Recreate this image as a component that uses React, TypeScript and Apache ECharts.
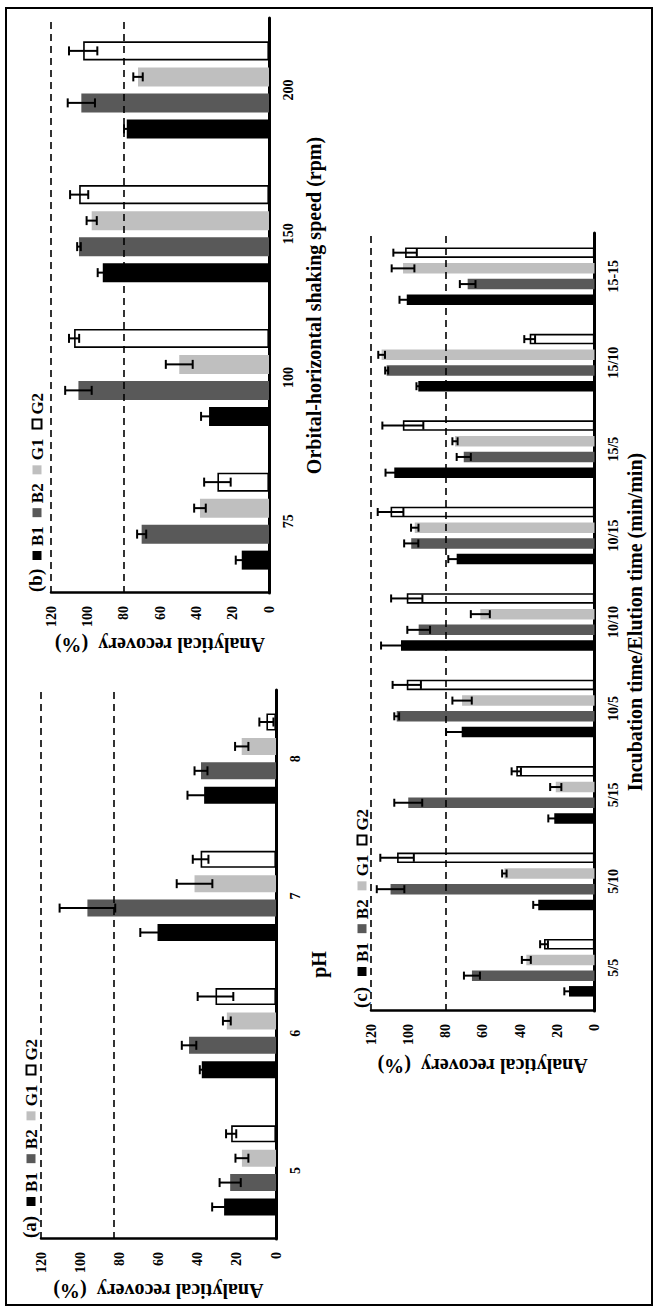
import { useEffect, useRef } from 'react';
import * as echarts from 'echarts';

// Figure is laid out landscape (W x H) and turned a quarter-turn to portrait.
const W = 1306;
const H = 653;
const FONT = '"Liberation Serif", "Times New Roman", serif';

// (a) pH
const phCategories = ['5', '6', '7', '8'];
const phB1 = [26.5, 37.9, 60.5, 36.7];
const phB1Err = [6.1, 1.0, 8.8, 8.5];
const phB2 = [23.4, 44.4, 96.3, 38.3];
const phB2Err = [5.4, 3.7, 14.2, 3.3];
const phG1 = [17.4, 25.1, 41.6, 17.5];
const phG1Err = [3.3, 2.0, 9.1, 3.4];
const phG2 = [22.9, 30.9, 38.5, 4.9];
const phG2Err = [2.6, 9.1, 4.0, 3.6];
const phRefLines = [83, 120];

// (b) orbital-horizontal shaking speed
const speedCategories = ['75', '100', '150', '200'];
const speedB1 = [15.0, 33.0, 91.5, 78.3];
const speedB1Err = [3.3, 4.4, 2.8, 1.5];
const speedB2 = [70.1, 104.9, 104.6, 103.3];
const speedB2Err = [2.5, 7.3, 1.0, 7.5];
const speedG1 = [38.0, 49.4, 97.6, 72.1];
const speedG1Err = [3.2, 7.4, 2.8, 2.6];
const speedG2 = [28.4, 107.3, 104.5, 102.3];
const speedG2Err = [7.3, 2.8, 5.0, 7.8];
const speedRefLines = [80, 120];

// (c) incubation time / elution time
const timeCategories = ['5/5', '5/10', '5/15', '10/5', '10/10', '10/15', '15/5', '15/10', '15-15'];
const timeB1 = [13.7, 30.2, 21.6, 71.3, 103.9, 74.0, 107.5, 94.6, 100.8];
const timeB1Err = [2.5, 2.7, 3.2, 8.4, 10.7, 4.5, 4.7, 1.0, 3.9];
const timeB2 = [65.8, 109.5, 100.0, 106.2, 94.4, 98.4, 70.2, 111.6, 68.1];
const timeB2Err = [4.3, 7.4, 7.5, 1.3, 6.1, 3.8, 3.8, 0.8, 4.2];
const timeG1 = [36.6, 48.4, 20.8, 71.1, 61.3, 96.5, 74.9, 114.3, 102.8];
const timeG1Err = [2.4, 1.2, 3.0, 5.2, 5.1, 2.0, 1.4, 1.8, 6.1];
const timeG2 = [27.1, 106.0, 42.0, 100.8, 100.8, 109.5, 102.9, 34.8, 101.7];
const timeG2Err = [2.1, 9.0, 2.5, 7.6, 8.4, 6.9, 11.0, 2.9, 6.3];
const timeRefLines = [80, 120];

const seriesNames = ['B1', 'B2', 'G1', 'G2'];
const yTitle = 'Analytical recovery  (%)';

const barStyles = [
  { color: '#000000' },
  { color: '#595959' },
  { color: '#bfbfbf' },
  { color: '#ffffff', borderColor: '#000000', borderWidth: 1.6 },
];

const panels = [
  {
    tag: '(a)',
    categories: phCategories,
    values: [phB1, phB2, phG1, phG2],
    errors: [phB1Err, phB2Err, phG1Err, phG2Err],
    refLines: phRefLines,
    xName: 'pH',
    grid: { left: 67, top: 41, width: 549, height: 235 },
    barWidth: 17,
    gapPx: 7.4,
    cap: 4.5,
    xNameGap: 33,
    legendAt: { tagX: 68, left: 100, y: 31 },
  },
  {
    tag: '(b)',
    categories: speedCategories,
    values: [speedB1, speedB2, speedG1, speedG2],
    errors: [speedB1Err, speedB2Err, speedG1Err, speedG2Err],
    refLines: speedRefLines,
    xName: 'Orbital-horizontal shaking speed (rpm)',
    grid: { left: 713, top: 51, width: 575, height: 218 },
    barWidth: 19,
    gapPx: 7,
    cap: 4.5,
    xNameGap: 35,
    legendAt: { tagX: 714, left: 746, y: 37 },
  },
  {
    tag: '(c)',
    categories: timeCategories,
    values: [timeB1, timeB2, timeG1, timeG2],
    errors: [timeB1Err, timeB2Err, timeG1Err, timeG2Err],
    refLines: timeRefLines,
    xName: 'Incubation time/Elution time (min/min)',
    grid: { left: 295, top: 371, width: 778, height: 223.5 },
    barWidth: 10.5,
    gapPx: 5.2,
    cap: 4,
    xNameGap: 30,
    legendAt: { tagX: 298, left: 330, y: 362 },
  },
];

function buildOption() {
  const grids: any[] = [];
  const xAxes: any[] = [];
  const yAxes: any[] = [];
  const series: any[] = [];
  const legends: any[] = [];
  const graphics: any[] = [];

  panels.forEach((p, gi) => {
    grids.push({ ...p.grid, containLabel: false });
    xAxes.push({
      type: 'category',
      gridIndex: gi,
      data: p.categories,
      axisLine: { show: true, lineStyle: { color: '#000', width: 3 } },
      axisTick: { show: false },
      axisLabel: { color: '#000', fontFamily: FONT, fontWeight: 'bold', fontSize: 14, margin: 12 },
      name: p.xName,
      nameLocation: 'middle',
      nameGap: p.xNameGap,
      nameTextStyle: { color: '#000', fontFamily: FONT, fontWeight: 'bold', fontSize: 20 },
    });
    yAxes.push({
      type: 'value',
      gridIndex: gi,
      min: 0,
      max: 120,
      interval: 20,
      axisLine: { show: true, lineStyle: { color: '#000', width: 2.5 } },
      axisTick: { show: false },
      splitLine: { show: false },
      axisLabel: { color: '#000', fontFamily: FONT, fontWeight: 'bold', fontSize: 14, margin: 13 },
      name: yTitle,
      nameLocation: 'middle',
      nameGap: 42,
      nameRotate: 90,
      nameTextStyle: { color: '#000', fontFamily: FONT, fontWeight: 'bold', fontSize: 20 },
    });

    const pitch = p.barWidth + p.gapPx;
    seriesNames.forEach((name, si) => {
      series.push({
        type: 'bar',
        name,
        xAxisIndex: gi,
        yAxisIndex: gi,
        data: p.values[si],
        barWidth: p.barWidth,
        barGap: `${(p.gapPx / p.barWidth) * 100}%`,
        itemStyle: barStyles[si],
        z: 2,
        markLine:
          si === 0
            ? {
                silent: true,
                symbol: 'none',
                label: { show: false },
                lineStyle: { color: '#000', width: 1.6, type: [7, 5] },
                data: p.refLines.map((v) => ({ yAxis: v })),
              }
            : undefined,
      });
      // error bars sit on the centre line of their bar
      const offset = (si - 1.5) * pitch;
      series.push({
        type: 'custom',
        name: `${name} error`,
        xAxisIndex: gi,
        yAxisIndex: gi,
        z: 5,
        data: p.categories.map((_, i) => [i, p.values[si][i], p.errors[si][i]]),
        encode: { x: 0, y: 1 },
        renderItem: (_params: any, api: any) => {
          const i = api.value(0);
          const v = api.value(1);
          const e = api.value(2);
          const hi = api.coord([i, v + e]);
          const lo = api.coord([i, v - e]);
          const x = hi[0] + offset;
          const st = { stroke: '#000', lineWidth: 2 };
          return {
            type: 'group',
            children: [
              { type: 'line', shape: { x1: x, y1: hi[1], x2: x, y2: lo[1] }, style: st },
              { type: 'line', shape: { x1: x - p.cap, y1: hi[1], x2: x + p.cap, y2: hi[1] }, style: st },
              { type: 'line', shape: { x1: x - p.cap, y1: lo[1], x2: x + p.cap, y2: lo[1] }, style: st },
            ],
          };
        },
      });
    });

    legends.push({
      data: seriesNames,
      left: p.legendAt.left,
      top: p.legendAt.y - 8.5,
      orient: 'horizontal',
      padding: 0,
      icon: 'rect',
      itemWidth: 9,
      itemHeight: 9,
      itemGap: 9,
      selectedMode: false,
      textStyle: { color: '#000', fontFamily: FONT, fontWeight: 'bold', fontSize: 17 },
    });
    graphics.push({
      type: 'text',
      left: p.legendAt.tagX,
      top: p.legendAt.y - 11,
      style: { text: p.tag, fill: '#000', font: `bold 19px ${FONT}` },
    });
  });

  // outer frame
  graphics.push({
    type: 'rect',
    shape: { x: 1, y: 6, width: 1297, height: 646 },
    style: { fill: 'none', stroke: '#000', lineWidth: 2 },
    silent: true,
  });

  return {
    animation: false,
    backgroundColor: '#ffffff',
    grid: grids,
    xAxis: xAxes,
    yAxis: yAxes,
    legend: legends,
    series,
    graphic: graphics,
  };
}

export default function App() {
  const ref = useRef<HTMLDivElement>(null);

  useEffect(() => {
    if (!ref.current) return;
    const chart = echarts.init(ref.current, undefined, { renderer: 'svg', width: W, height: H });
    chart.setOption(buildOption() as any);
    return () => chart.dispose();
  }, []);

  return (
    <div
      style={{
        position: 'absolute',
        left: 0,
        top: 0,
        width: H,
        height: W,
        overflow: 'hidden',
        background: '#fff',
      }}
    >
      <div
        ref={ref}
        style={{
          position: 'absolute',
          left: 0,
          top: 0,
          width: W,
          height: H,
          transformOrigin: '0 0',
          transform: `rotate(-90deg) translate(-${W}px, 0)`,
        }}
      />
    </div>
  );
}
